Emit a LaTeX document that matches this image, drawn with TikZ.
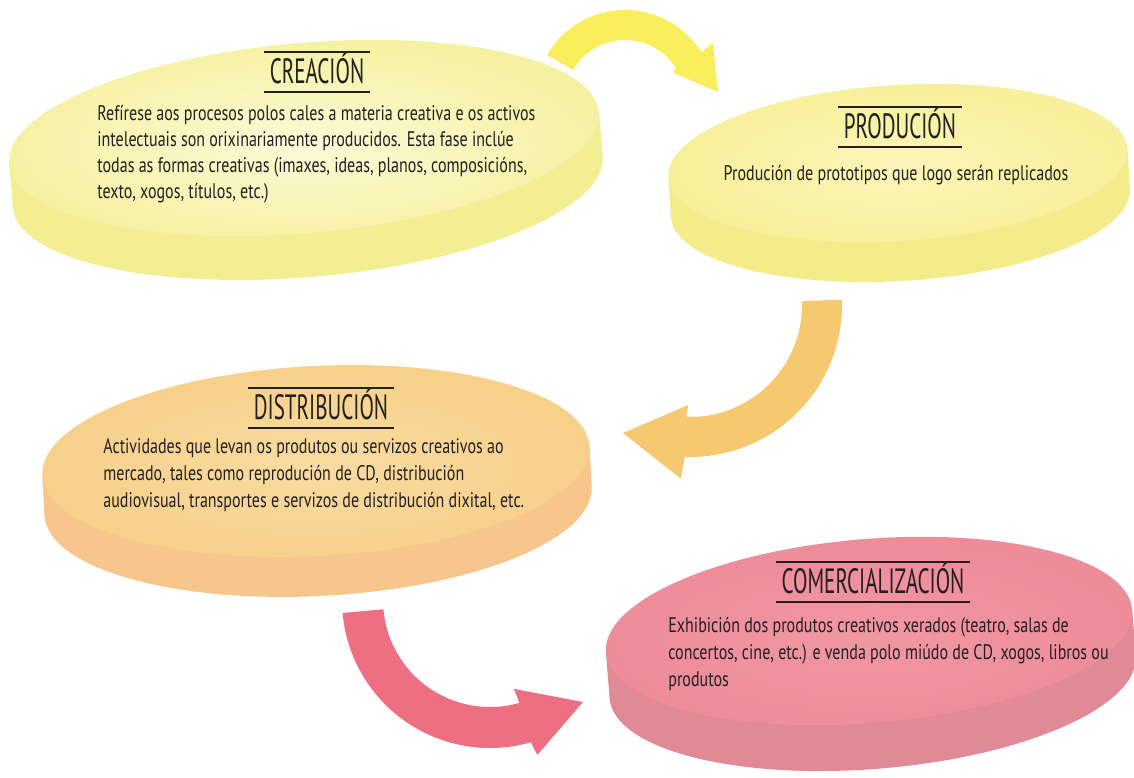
\documentclass[tikz,border=0pt]{standalone}
\usepackage{fontspec}
\usepackage{tikz}
\usepackage{xcolor}
\usetikzlibrary{calc}
\setmainfont[FakeStretch=0.76]{PT Sans}
\newfontfamily\titlefont[FakeStretch=0.6]{PT Sans}

\definecolor{creaA}{HTML}{FCF9D8}
\definecolor{creaB}{HTML}{F6F1A2}
\definecolor{creaC}{HTML}{F4EE93}
\definecolor{prodA}{HTML}{FAF5B8}
\definecolor{prodB}{HTML}{F7F09A}
\definecolor{prodC}{HTML}{F4EC8A}
\definecolor{distA}{HTML}{F9DCA2}
\definecolor{distB}{HTML}{F7D08A}
\definecolor{distC}{HTML}{F6C68C}
\definecolor{comeA}{HTML}{F097A3}
\definecolor{comeB}{HTML}{EE8C9A}
\definecolor{comeC}{HTML}{E08A97}
\definecolor{frechaA}{HTML}{F9EE5C}
\definecolor{frechaB}{HTML}{F6C870}
\definecolor{frechaC}{HTML}{EE6F82}
\definecolor{tinta}{HTML}{231F20}

\begin{document}
\begin{tikzpicture}[x=0.02cm,y=-0.02cm,
    titulo/.style={font=\titlefont\fontsize{20}{22}\selectfont,text=tinta,
        text height=14pt,text depth=1pt,inner xsep=3pt,inner ysep=3.5pt},
    texto/.style={font=\fontsize{12}{15.3}\selectfont,text=tinta,align=left,
        anchor=base west,inner sep=0pt}]
    \useasboundingbox (0,0) rectangle (1134,778);
    % discs
    \foreach \cx/\cy/\rx/\ry/\t/\rot/\cara/\borde/\lado in {
        304/138/296/95/44/5/creaA/creaB/creaC,
        898/163/230/78/40/3.5/prodA/prodB/prodC,
        316/461/274/95/40/3/distA/distB/distC,
        869/631/264/92/46/4.7/comeA/comeB/comeC} {
        \begin{scope}[rotate around={\rot:(\cx,\cy)}]
            \fill[\lado] (\cx,\cy+\t) ellipse [x radius=\rx,y radius=\ry];
            \fill[\lado] (\cx-\rx,\cy) rectangle (\cx+\rx,\cy+\t);
            \shade[inner color=\cara,outer color=\borde] (\cx,\cy) ellipse [x radius=\rx,y radius=\ry];
        \end{scope}
    }
    % arrows
    \coordinate (ca) at (625,100);
    \coordinate (cb) at (690,305);
    \coordinate (cc) at (490,600);
    \fill[frechaA] ($(ca)+(-150:90)$) arc [start angle=-150,end angle=-32,radius=90]
        -- ($(ca)+(-33:105)$) -- (718,92) -- ($(ca)+(-30:55)$) -- ($(ca)+(-32:60)$)
        arc [start angle=-32,end angle=-150,radius=60] -- cycle;
    \fill[frechaB] ($(cb)+(-2:152)$) arc [start angle=-2,end angle=92,radius=152]
        -- ($(cb)+(93:174)$) -- (623,433) -- ($(cb)+(91:100)$) -- ($(cb)+(92:112)$)
        arc [start angle=92,end angle=-2,radius=112] -- cycle;
    \fill[frechaC] ($(cc)+(175:148)$) arc [start angle=175,end angle=74,radius=148]
        -- ($(cc)+(73:162)$) -- (583,702) -- ($(cc)+(75:92)$) -- ($(cc)+(74:107)$)
        arc [start angle=74,end angle=175,radius=107] -- cycle;
    % titles
    \node[titulo] (tcrea) at (317,72) {CREACIÓN};
    \node[titulo] (tprod) at (900,127) {PRODUCIÓN};
    \node[titulo] (tdist) at (321,408) {DISTRIBUCIÓN};
    \node[titulo] (tcome) at (873,582) {COMERCIALIZACIÓN};
    \foreach \n in {tcrea,tprod,tdist,tcome} {
        \draw[tinta,line width=1pt] (\n.north west) -- (\n.north east)
            (\n.south west) -- (\n.south east);
    }
    % texts (base = last line)
    \node[texto,font=\fontsize{12}{14.7}\selectfont] (xcrea) at (97,198) {Refírese aos procesos polos cales a materia creativa e os activos\\
        intelectuais son orixinariamente producidos. Esta fase inclúe\\
        todas as formas creativas (imaxes, ideas, planos, composicións,\\
        texto, xogos, títulos, etc.)};
    \node[texto,anchor=base] (xprod) at (896,180) {Produción de prototipos que logo serán replicados};
    \node[texto] (xdist) at (103,507) {Actividades que levan os produtos ou servizos creativos ao\\
        mercado, tales como reprodución de CD, distribución\\
        audiovisual, transportes e servizos de distribución dixital, etc.};
    \node[texto] (xcome) at (668,686) {Exhibición dos produtos creativos xerados (teatro, salas de\\
        concertos, cine, etc.) e venda polo miúdo de CD, xogos, libros ou\\
        produtos};
\end{tikzpicture}
\end{document}
